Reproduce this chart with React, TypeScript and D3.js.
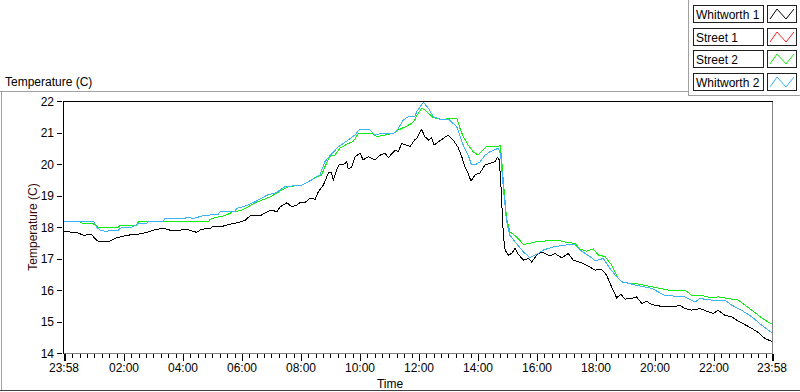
import * as d3 from "d3";

// time in hours from midnight, temperature in C
const whitworth1: [number, number][] = [
  [-0.033, 17.85], [0.4, 17.83], [0.62, 17.74], [0.9, 17.76], [1.07, 17.58], [1.19, 17.53],
  [1.47, 17.53], [1.7, 17.64], [2.09, 17.74], [2.43, 17.76], [2.77, 17.83], [3.11, 17.93],
  [3.39, 17.95], [3.56, 17.9], [3.9, 17.9], [4.13, 17.93], [4.46, 17.83], [4.63, 17.93],
  [4.92, 17.95], [5.03, 18.03], [5.37, 18.03], [5.59, 18.09], [5.82, 18.13], [6.1, 18.21],
  [6.27, 18.35], [6.61, 18.35], [6.78, 18.45], [7.01, 18.54], [7.18, 18.48], [7.29, 18.64],
  [7.52, 18.77], [7.69, 18.64], [7.85, 18.69], [7.97, 18.78], [8.14, 18.78], [8.31, 18.91],
  [8.48, 18.88], [8.59, 19.12], [8.76, 19.33], [8.93, 19.72], [9.02, 19.75], [9.1, 19.49],
  [9.21, 19.81], [9.29, 19.97], [9.43, 19.97], [9.55, 20.07], [9.6, 19.84], [9.72, 19.91],
  [9.83, 20.23], [10.0, 20.34], [10.11, 20.13], [10.28, 20.23], [10.51, 20.13], [10.68, 20.28],
  [10.85, 20.34], [10.96, 20.2], [11.19, 20.44], [11.3, 20.39], [11.41, 20.65], [11.58, 20.6],
  [11.7, 20.55], [11.86, 20.78], [11.92, 20.81], [12.09, 21.1], [12.2, 20.87], [12.32, 20.76],
  [12.43, 20.84], [12.51, 20.6], [12.66, 20.71], [12.82, 20.81], [12.99, 20.92], [13.16, 20.76],
  [13.33, 20.52], [13.45, 20.23], [13.56, 19.91], [13.67, 19.7], [13.76, 19.46], [13.9, 19.65],
  [14.07, 19.72], [14.24, 19.97], [14.41, 20.02], [14.58, 20.07], [14.66, 20.21], [14.72, 20.13],
  [14.77, 19.49], [14.81, 18.7], [14.86, 17.74], [14.92, 17.26], [15.03, 17.11], [15.14, 17.16],
  [15.26, 17.32], [15.37, 17.13], [15.54, 16.95], [15.71, 17.0], [15.82, 16.89], [15.99, 17.11],
  [16.16, 17.21], [16.27, 17.16], [16.44, 17.08], [16.61, 17.16], [16.84, 17.02], [17.06, 17.16],
  [17.23, 16.95], [17.46, 16.88], [17.68, 16.79], [17.97, 16.63], [18.19, 16.66], [18.36, 16.47],
  [18.53, 16.1], [18.7, 15.75], [18.85, 15.87], [18.98, 15.71], [19.21, 15.73], [19.38, 15.78],
  [19.55, 15.57], [19.72, 15.64], [19.89, 15.54], [20.22, 15.48], [20.56, 15.46], [20.85, 15.51],
  [21.02, 15.41], [21.24, 15.36], [21.52, 15.41], [21.75, 15.33], [21.98, 15.25], [22.14, 15.36],
  [22.37, 15.2], [22.6, 15.15], [22.82, 15.01], [23.05, 14.9], [23.28, 14.78], [23.5, 14.65],
  [23.73, 14.46], [23.96, 14.37],
];

// Street 1 is hidden under Street 2 in the reference, nothing of it shows
const street1: [number, number][] = [];

const street2: [number, number][] = [
  [-0.033, 18.17], [0.5, 18.17], [0.55, 18.13], [0.7, 18.1], [0.96, 18.1], [1.13, 17.99],
  [1.81, 17.99], [1.86, 18.06], [2.43, 18.06], [2.49, 18.17], [4.86, 18.17], [4.92, 18.24],
  [5.14, 18.31], [5.37, 18.35], [5.59, 18.43], [5.71, 18.5], [5.85, 18.5], [5.99, 18.54],
  [6.21, 18.64], [6.44, 18.77], [6.67, 18.85], [7.01, 18.98], [7.35, 19.17], [7.57, 19.28],
  [8.02, 19.33], [8.25, 19.44], [8.53, 19.6], [8.7, 19.65], [8.81, 19.91], [8.98, 20.25],
  [9.15, 20.28], [9.32, 20.5], [9.6, 20.65], [9.77, 20.71], [9.94, 20.97], [10.4, 20.97],
  [10.57, 20.87], [10.74, 20.9], [11.13, 20.97], [11.3, 21.08], [11.53, 21.18], [11.75, 21.29],
  [11.86, 21.4], [11.92, 21.53], [12.09, 21.77], [12.2, 21.71], [12.49, 21.47], [12.82, 21.4],
  [12.99, 21.45], [13.28, 21.45], [13.39, 21.13], [13.5, 20.87], [13.67, 20.6], [13.84, 20.39],
  [14.0, 20.28], [14.12, 20.39], [14.29, 20.55], [14.58, 20.55], [14.75, 20.58], [14.8, 20.18],
  [14.86, 19.44], [14.97, 18.27], [15.08, 17.85], [15.3, 17.69], [15.54, 17.45], [15.76, 17.48],
  [16.05, 17.55], [16.44, 17.56], [16.78, 17.56], [17.0, 17.51], [17.29, 17.48], [17.46, 17.3],
  [17.68, 17.23], [17.91, 17.3], [18.08, 17.11], [18.31, 17.06], [18.53, 16.79], [18.76, 16.36],
  [18.92, 16.23], [19.32, 16.21], [19.6, 16.16], [20.0, 16.08], [20.45, 16.0], [21.02, 16.0],
  [21.24, 15.83], [21.58, 15.83], [21.86, 15.76], [22.14, 15.78], [22.6, 15.71], [22.82, 15.68],
  [23.05, 15.52], [23.28, 15.36], [23.5, 15.2], [23.73, 15.04], [23.96, 14.92],
];

const whitworth2: [number, number][] = [
  [-0.033, 18.19], [0.96, 18.19], [1.07, 18.0], [1.19, 17.9], [1.41, 17.85], [1.53, 17.9],
  [1.81, 17.9], [1.92, 17.99], [2.26, 17.99], [2.49, 18.11], [2.77, 18.11], [2.82, 18.19],
  [3.33, 18.19], [3.39, 18.27], [4.07, 18.27], [4.13, 18.32], [4.35, 18.27], [4.69, 18.36],
  [5.2, 18.41], [5.25, 18.48], [5.76, 18.5], [5.82, 18.59], [6.1, 18.66], [6.44, 18.8],
  [6.89, 19.03], [7.12, 19.07], [7.46, 19.28], [8.02, 19.33], [8.36, 19.49], [8.64, 19.65],
  [8.81, 20.07], [8.98, 20.26], [9.27, 20.55], [9.6, 20.76], [9.83, 20.92], [9.97, 21.08],
  [10.34, 21.08], [10.51, 20.92], [10.74, 20.97], [11.13, 20.97], [11.3, 21.13], [11.47, 21.4],
  [11.64, 21.5], [11.86, 21.5], [11.92, 21.66], [12.15, 21.96], [12.32, 21.77], [12.49, 21.5],
  [12.82, 21.4], [13.03, 21.4], [13.28, 21.18], [13.5, 20.6], [13.67, 20.28], [13.78, 19.97],
  [13.9, 19.97], [14.07, 20.07], [14.24, 20.28], [14.41, 20.39], [14.69, 20.5], [14.77, 20.28],
  [14.86, 19.23], [14.97, 18.17], [15.08, 17.74], [15.3, 17.48], [15.54, 17.21], [15.76, 17.03],
  [15.99, 17.13], [16.22, 17.27], [16.55, 17.37], [17.0, 17.43], [17.29, 17.43], [17.46, 17.27],
  [17.8, 17.06], [17.97, 16.93], [18.25, 17.0], [18.48, 16.68], [18.7, 16.42], [18.87, 16.26],
  [19.32, 16.16], [19.89, 16.05], [20.33, 15.83], [21.02, 15.78], [21.36, 15.62], [21.52, 15.73],
  [21.92, 15.68], [22.37, 15.68], [22.6, 15.52], [22.93, 15.36], [23.28, 15.15], [23.62, 14.88],
  [23.96, 14.64],
];

const seriesNames = ["Whitworth 1", "Street 1", "Street 2", "Whitworth 2"];
const seriesColors = ["#000000", "#ff2020", "#11ee11", "#3cb4f4"];
const seriesData = [whitworth1, street1, street2, whitworth2];

const yTicks = [14, 15, 16, 17, 18, 19, 20, 21, 22];
const xTickTimes = [-2 / 60, 2, 4, 6, 8, 10, 12, 14, 16, 18, 20, 22, 24 - 2 / 60];
const xTickLabels = ["23:58", "02:00", "04:00", "06:00", "08:00", "10:00", "12:00",
  "14:00", "16:00", "18:00", "20:00", "22:00", "23:58"];

const font = "'Liberation Sans', Arial, sans-serif";

export default function App() {
  const W = 800;
  const H = 392;
  const left = 64, right = 772, top = 101, bottom = 353;

  const x = d3.scaleLinear().domain([-2 / 60, 24 - 2 / 60]).range([left, right]);
  const y = d3.scaleLinear().domain([14, 22]).range([bottom, top]);

  const line = d3.line<[number, number]>()
    .x((d) => x(d[0]))
    .y((d) => y(d[1]));

  const minor = d3.range(0, 24, 0.25);

  return (
    <svg width={W} height={H} style={{ position: "absolute", left: 0, top: 0, background: "#fff" }}
      fontFamily={font}>
      {/* outer frame */}
      <line x1={0} x2={688} y1={91.5} y2={91.5} stroke="#a0a0a0" />
      <line x1={1.5} x2={1.5} y1={91.5} y2={391} stroke="#a0a0a0" />
      <line x1={0} x2={800} y1={390.5} y2={390.5} stroke="#404040" />
      <text x={5} y={86} fontSize={12}>Temperature (C)</text>

      {/* legend panel */}
      <line x1={688.5} x2={688.5} y1={0} y2={96} stroke="#a0a0a0" />
      <line x1={688} x2={800} y1={95.5} y2={95.5} stroke="#a0a0a0" />
      {seriesNames.map((name, i) => {
        const ty = Math.round(5 + i * 22.7);
        return (
          <g key={name}>
            <rect x={693.5} y={ty + 0.5} width={70} height={17} fill="#fff" stroke="#202020" />
            <text x={696} y={ty + 13.5} fontSize={12}>{name}</text>
            <rect x={767.5} y={ty + 0.5} width={29} height={17} fill="#fff" stroke="#202020" />
            <polyline
              points={`${770},${ty + 14} ${777},${ty + 4} ${786},${ty + 14} ${794},${ty + 4}`}
              fill="none" stroke={seriesColors[i]} strokeWidth={1} />
          </g>
        );
      })}

      {/* plot area */}
      <rect x={left} y={top} width={right - left} height={bottom - top} fill="#fff" />
      <g shapeRendering="crispEdges">
        <line x1={right + 0.5} x2={right + 0.5} y1={top} y2={bottom + 1} stroke="#808080" />
        <line x1={left} x2={right + 1} y1={bottom + 0.5} y2={bottom + 0.5} stroke="#808080" />
        <line x1={left - 0.5} x2={left - 0.5} y1={top} y2={bottom + 1} stroke="#000" />
        <line x1={left - 1} x2={right + 1} y1={top + 0.5} y2={top + 0.5} stroke="#000" />
      </g>

      {seriesData.map((d, i) =>
        d.length ? (
          <path key={seriesNames[i]} d={line(d) ?? ""} fill="none" stroke={seriesColors[i]}
            strokeWidth={1} shapeRendering="crispEdges" />
        ) : null
      )}

      {/* y axis */}
      <g shapeRendering="crispEdges">
        {yTicks.map((v) => (
          <line key={v} x1={57} x2={62} y1={Math.round(y(v)) + 0.5} y2={Math.round(y(v)) + 0.5}
            stroke="#000" />
        ))}
      </g>
      {yTicks.map((v) => (
        <text key={v} x={54} y={y(v) + 4.5} fontSize={12} textAnchor="end">{v}</text>
      ))}
      <text transform={`translate(37,227) rotate(-90)`} fontSize={12} textAnchor="middle"
        fill="#3a0a0a">Temperature (C)</text>

      {/* x axis */}
      <g shapeRendering="crispEdges">
        {minor.map((t) => (
          <line key={t} x1={Math.round(x(t)) + 0.5} x2={Math.round(x(t)) + 0.5} y1={354} y2={358}
            stroke="#000" />
        ))}
        {xTickTimes.map((t, i) => (
          <line key={i} x1={Math.round(x(t)) + 0.5} x2={Math.round(x(t)) + 0.5} y1={354} y2={361}
            stroke="#000" strokeWidth={i === 0 || i === xTickTimes.length - 1 ? 2 : 1} />
        ))}
      </g>
      {xTickTimes.map((t, i) => (
        <text key={i} x={x(t)} y={372} fontSize={12} textAnchor="middle">{xTickLabels[i]}</text>
      ))}
      <text x={390} y={388} fontSize={12} textAnchor="middle">Time</text>
    </svg>
  );
}
